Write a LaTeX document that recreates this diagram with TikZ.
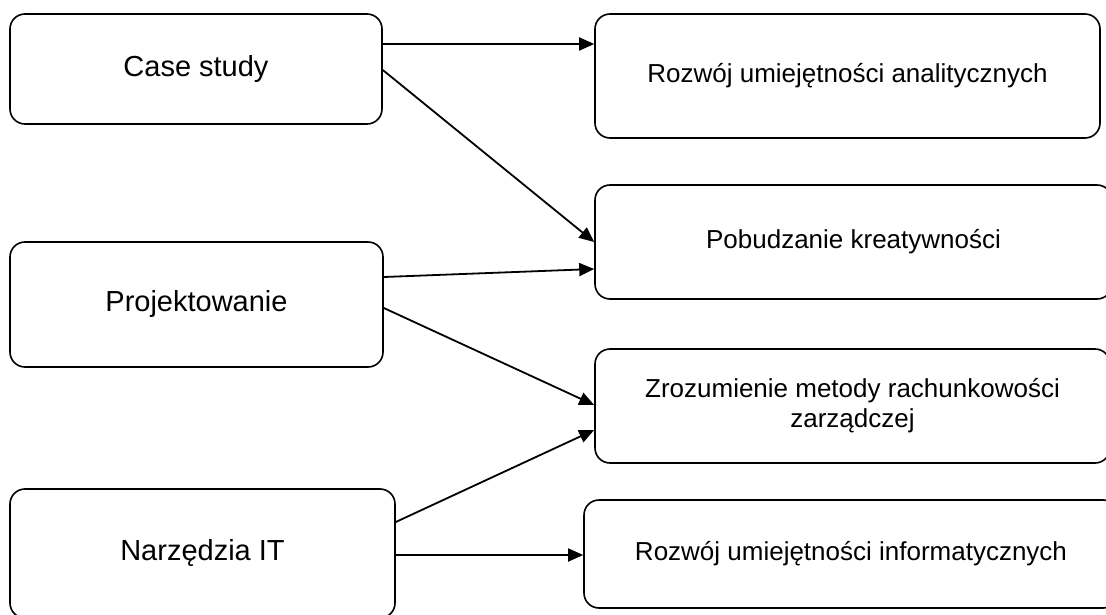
\documentclass[tikz,border=0pt]{standalone}
\usepackage{fontspec}
\setmainfont{Liberation Sans}
\usetikzlibrary{arrows.meta}
\begin{document}
\begin{tikzpicture}[x=1pt,y=-1pt,
  box/.style={draw=black, line width=1.6pt, rounded corners=15pt, inner sep=0pt, align=center},
  leftbox/.style={box, font=\fontsize{29pt}{33pt}\selectfont},
  rightbox/.style={box, font=\fontsize{26pt}{30pt}\selectfont},
  conn/.style={line width=1.8pt, -{Triangle[length=15pt,width=13pt]}}]
\useasboundingbox (0,0) rectangle (1106,615);
\clip (0,0) rectangle (1106,615);
\node[leftbox, minimum width=372pt, minimum height=110pt] (L1) at (196,69) {Case study};
\node[leftbox, minimum width=373pt, minimum height=125pt] (L2) at (196.5,304.5) {Projektowanie};
\node[leftbox, minimum width=385pt, minimum height=129pt] (L3) at (202.5,553.5) {Narzędzia IT};
\node[rightbox, minimum width=505pt, minimum height=124pt] (R1) at (847.5,76) {Rozwój umiejętności analitycznych};
\node[rightbox, minimum width=517pt, minimum height=114pt] (R2) at (853.5,242) {Pobudzanie kreatywności};
\node[rightbox, minimum width=515pt, minimum height=114pt] (R3) at (852.5,406) {Zrozumienie metody rachunkowości\\zarządczej};
\node[rightbox, minimum width=534pt, minimum height=108pt] (R4) at (851,554) {Rozwój umiejętności informatycznych};
\draw[conn] ([yshift=25pt]L1.east) -- ([yshift=32pt]R1.west);
\draw[conn] ([yshift=-1pt]L1.east) -- (R2.west);
\draw[conn] ([yshift=27.5pt]L2.east) -- ([yshift=-27pt]R2.west);
\draw[conn] ([yshift=-3.5pt]L2.east) -- ([yshift=1pt]R3.west);
\draw[conn] ([yshift=31.5pt]L3.east) -- ([yshift=-24pt]R3.west);
\draw[conn] ([yshift=-1.5pt]L3.east) -- ([yshift=-1pt]R4.west);
\end{tikzpicture}
\end{document}
